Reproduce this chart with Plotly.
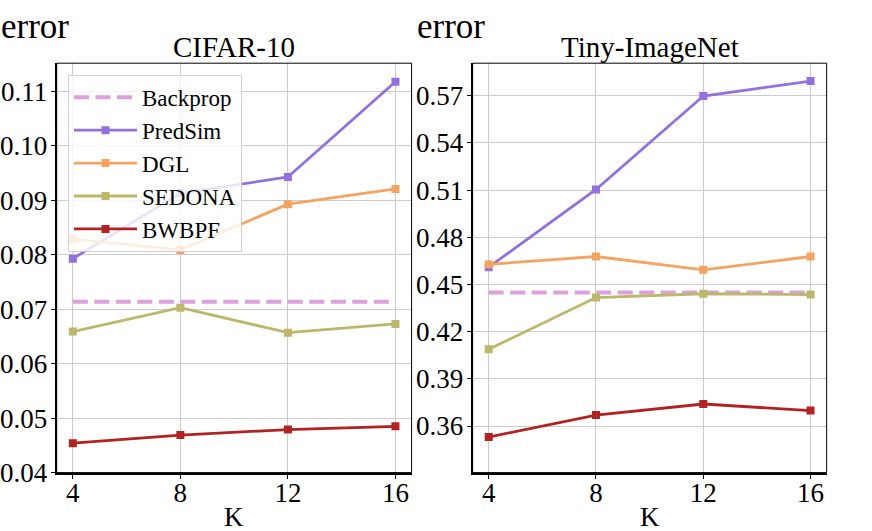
import plotly.graph_objects as go

# K values (number of modules)
k_values = [4, 8, 12, 16]
methods = ["Backprop", "PredSim", "DGL", "SEDONA", "BWBPF"]
colors = {
    "Backprop": "#DDA0DD",
    "PredSim": "#9370DB",
    "DGL": "#F4A460",
    "SEDONA": "#BDB76B",
    "BWBPF": "#B22222",
}

# CIFAR-10 test error
cifar_backprop = [0.0714, 0.0714, 0.0714, 0.0714]
cifar_predsim = [0.0793, 0.0913, 0.0943, 0.1118]
cifar_dgl = [0.0829, 0.0809, 0.0893, 0.0921]
cifar_sedona = [0.0659, 0.0703, 0.0657, 0.0673]
cifar_bwbpf = [0.0454, 0.0469, 0.0479, 0.0485]

# Tiny-ImageNet test error
tiny_backprop = [0.4449, 0.4449, 0.4449, 0.4449]
tiny_predsim = [0.4610, 0.5104, 0.5698, 0.5793]
tiny_dgl = [0.4628, 0.4678, 0.4593, 0.4678]
tiny_sedona = [0.4088, 0.4417, 0.4441, 0.4436]
tiny_bwbpf = [0.3530, 0.3670, 0.3740, 0.3698]

cifar = dict(zip(methods, [cifar_backprop, cifar_predsim, cifar_dgl, cifar_sedona, cifar_bwbpf]))
tiny = dict(zip(methods, [tiny_backprop, tiny_predsim, tiny_dgl, tiny_sedona, tiny_bwbpf]))

cifar_ticks = [0.04, 0.05, 0.06, 0.07, 0.08, 0.09, 0.10, 0.11]
tiny_ticks = [0.36, 0.39, 0.42, 0.45, 0.48, 0.51, 0.54, 0.57]

FONT = "Liberation Serif"

fig = go.Figure()

for data, xa, ya, show in [(cifar, "x", "y", True), (tiny, "x2", "y2", False)]:
    for m in methods:
        if m == "Backprop":
            fig.add_trace(go.Scatter(
                x=k_values, y=data[m], name=m, mode="lines",
                line=dict(color=colors[m], width=4, dash="15px,6.5px"),
                xaxis=xa, yaxis=ya, showlegend=show))
        else:
            fig.add_trace(go.Scatter(
                x=k_values, y=data[m], name=m, mode="lines+markers",
                line=dict(color=colors[m], width=2.8),
                marker=dict(symbol="square", size=8, color=colors[m]),
                xaxis=xa, yaxis=ya, showlegend=show))


def axis_style():
    return dict(
        showgrid=True, gridcolor="#cccccc", gridwidth=1,
        showline=True, linecolor="black", linewidth=2,
        ticks="outside", ticklen=4, tickwidth=1, tickcolor="black",
        tickfont=dict(family=FONT, size=27, color="black"),
        zeroline=False, automargin=False,
    )


fig.update_layout(
    width=872, height=531,
    margin=dict(l=0, r=0, t=0, b=0),
    plot_bgcolor="white", paper_bgcolor="white",
    font=dict(family=FONT, size=27, color="black"),
    xaxis=dict(domain=[0.065, 0.472], range=[3.4, 16.6], tickvals=k_values,
               anchor="y", ticklabelstandoff=-9, **axis_style()),
    yaxis=dict(domain=[0.110, 0.881], range=[0.04, 0.1152], tickvals=cifar_ticks,
               tickformat=".2f", anchor="x", ticklabelstandoff=-2, **axis_style()),
    xaxis2=dict(domain=[0.542, 0.948], range=[3.4, 16.6], tickvals=k_values,
                anchor="y2", ticklabelstandoff=-9, **axis_style()),
    yaxis2=dict(domain=[0.110, 0.881], range=[0.3304, 0.5907], tickvals=tiny_ticks,
                tickformat=".2f", anchor="x2", ticklabelstandoff=-2, **axis_style()),
    legend=dict(
        x=0.078, y=0.859, xanchor="left", yanchor="top",
        bgcolor="rgba(255,255,255,0.8)", bordercolor="#d0d0d0", borderwidth=1,
        font=dict(family=FONT, size=23, color="black"),
        itemwidth=63,
    ),
)

# thin frame on top and right like the original spines
for xr, yr in [("x domain", "y domain"), ("x2 domain", "y2 domain")]:
    fig.add_shape(type="rect", xref=xr, yref=yr, x0=0, x1=1, y0=0, y1=1,
                  line=dict(color="black", width=1), layer="above")

titles = [("CIFAR-10", "x domain", "y domain"), ("Tiny-ImageNet", "x2 domain", "y2 domain")]
for text, xr, yr in titles:
    fig.add_annotation(text=text, x=0.5, y=1, xref=xr, yref=yr, xanchor="center",
                       yanchor="bottom", yshift=-2, showarrow=False,
                       font=dict(family=FONT, size=29, color="black"))
    fig.add_annotation(text="K", x=0.5, y=0, xref=xr, yref=yr, xanchor="center",
                       yanchor="top", yshift=-27, showarrow=False,
                       font=dict(family=FONT, size=27, color="black"))

for xpos in [0.0, 0.477]:
    fig.add_annotation(text="error", x=xpos, y=1, xref="paper", yref="paper",
                       xanchor="left", yanchor="top", xshift=-1, yshift=-5, showarrow=False,
                       font=dict(family=FONT, size=35, color="black"))

# page without the default body margin so the figure sits at the window corner
fig.write_html("out.html", config={"displayModeBar": False},
               post_script="document.body.style.margin='0';")
